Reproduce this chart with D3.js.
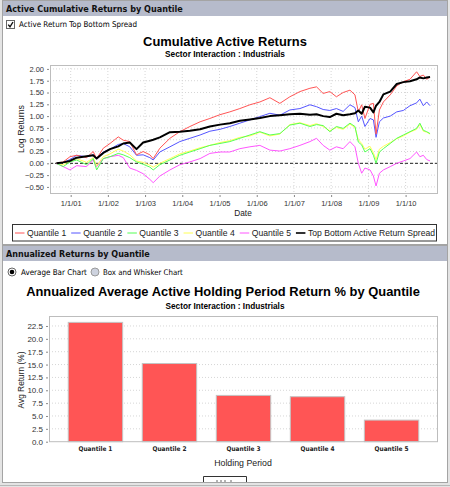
<!DOCTYPE html>
<html>
<head>
<meta charset="utf-8">
<script src="https://cdn.jsdelivr.net/npm/d3@7"></script>
<style>
body{margin:0;background:#fff;}
svg{display:block;font-family:"Liberation Sans",Arial,sans-serif;}
</style>
</head>
<body>
<svg id="chart" width="450" height="487"></svg>
<script>
// ---- data ----
const dates = ["2000-08-15","2000-10-20","2000-12-25","2001-03-01","2001-06-06","2001-08-10","2001-09-13","2001-11-17","2002-01-22","2002-04-13",
	"2002-06-01","2002-08-04","2002-10-09","2002-12-13","2003-02-17","2003-03-22","2003-05-26","2003-09-02","2003-12-08","2004-03-16",
	"2004-06-24","2004-09-28","2005-01-05","2005-04-12","2005-07-19","2005-10-26","2006-02-01","2006-05-10","2006-08-16","2006-11-22",
	"2007-03-01","2007-06-07","2007-08-11","2007-10-15","2007-12-19","2008-02-22","2008-04-28","2008-07-04","2008-08-22","2008-09-24",
	"2008-10-27","2008-11-28","2009-01-17","2009-02-19","2009-03-17","2009-04-19","2009-05-28","2009-08-03","2009-10-06","2009-12-10",
	"2010-02-13","2010-04-19","2010-05-21","2010-06-24","2010-07-27","2010-08-29"];

const quantile1 = [0.00,0.03,0.14,0.17,0.12,0.25,0.10,0.32,0.42,0.56,
	0.49,0.46,0.18,0.25,0.18,0.10,0.32,0.53,0.67,0.78,
	0.88,0.95,1.03,1.09,1.16,1.24,1.30,1.39,1.27,1.41,
	1.52,1.59,1.62,1.48,1.52,1.41,1.50,1.55,1.45,1.09,
	1.24,0.95,1.25,1.27,0.62,1.13,1.30,1.45,1.64,1.73,
	1.78,1.94,1.84,1.87,1.78,1.83];
const quantile2 = [0.00,0.02,0.08,0.17,0.14,0.18,0.12,0.24,0.30,0.40,
	0.42,0.35,0.17,0.18,0.12,0.07,0.24,0.35,0.46,0.53,
	0.60,0.68,0.72,0.78,0.85,0.92,0.99,1.06,1.02,1.13,
	1.16,1.24,1.20,1.14,1.12,1.16,1.10,1.24,1.18,0.88,
	1.00,0.78,0.95,0.92,0.55,0.88,0.96,1.00,1.09,1.12,
	1.22,1.28,1.36,1.22,1.30,1.22];
const quantile3 = [0.00,-0.07,0.03,0.07,-0.03,0.10,-0.14,0.10,0.14,0.21,
	0.18,0.12,0.03,-0.02,-0.08,-0.14,-0.03,0.07,0.17,0.24,
	0.31,0.38,0.42,0.46,0.53,0.60,0.67,0.60,0.63,0.81,
	0.85,0.78,0.82,0.80,0.67,0.78,0.74,0.85,0.78,0.45,
	0.39,0.24,0.31,0.17,0.00,0.24,0.31,0.42,0.53,0.60,
	0.67,0.74,0.85,0.70,0.67,0.63];
const quantile4 = [0.00,-0.03,0.05,0.10,0.02,0.12,-0.05,0.14,0.20,0.30,
	0.26,0.18,0.05,0.02,-0.04,-0.08,0.00,0.10,0.20,0.26,
	0.33,0.38,0.44,0.48,0.55,0.58,0.66,0.58,0.62,0.82,
	0.86,0.80,0.84,0.78,0.69,0.76,0.72,0.83,0.76,0.50,
	0.42,0.30,0.36,0.22,0.08,0.30,0.36,0.44,0.52,0.58,
	0.66,0.72,0.82,0.68,0.66,0.62];
const quantile5 = [0.00,-0.07,-0.14,-0.05,-0.07,0.07,-0.07,0.10,0.14,0.17,
	0.12,-0.10,-0.15,-0.22,-0.34,-0.41,-0.27,-0.14,-0.03,0.03,
	0.10,0.21,0.24,0.24,0.31,0.35,0.38,0.28,0.26,0.31,
	0.38,0.46,0.53,0.38,0.28,0.35,0.31,0.46,0.35,0.00,
	-0.21,-0.10,-0.14,-0.27,-0.48,-0.21,-0.14,-0.07,0.00,0.05,
	0.10,0.24,0.14,0.17,0.08,0.05];
const spread = [0.00,0.02,0.05,0.12,0.15,0.17,0.10,0.22,0.30,0.36,
	0.42,0.44,0.30,0.44,0.48,0.50,0.55,0.66,0.67,0.69,
	0.72,0.78,0.82,0.85,0.90,0.93,0.96,1.00,1.02,1.04,
	1.05,1.03,1.04,1.00,0.98,1.05,1.02,1.04,1.06,1.12,
	1.05,1.20,1.18,1.08,1.22,1.30,1.46,1.52,1.68,1.72,
	1.74,1.78,1.82,1.80,1.82,1.83];

const seriesNames = ["Quantile 1","Quantile 2","Quantile 3","Quantile 4","Quantile 5","Top Bottom Active Return Spread"];
const lineTicks = [-0.5,-0.25,0,0.25,0.5,0.75,1,1.25,1.5,1.75,2];
const dateTicks = ["2001-01-01","2002-01-01","2003-01-01","2004-01-01","2005-01-01","2006-01-01","2007-01-01","2008-01-01","2009-01-01","2010-01-01"];

const barCats = ["Quantile 1","Quantile 2","Quantile 3","Quantile 4","Quantile 5"];
const barVals = [23.2,15.2,9.0,8.75,4.2];
const barTicks = [0,2.5,5,7.5,10,12.5,15,17.5,20,22.5];

// ---- helpers ----
const parse = d3.timeParse("%Y-%m-%d");
const svg = d3.select("#chart");
const colors = ["#ff5555","#5555ff","#55ff55","#ffff55","#ff55ff","#000000"];

// shrink/grow font so the text spans the width seen in the reference
function fit(sel, w){
	const len = sel.node().getComputedTextLength();
	const fs = parseFloat(sel.attr("font-size"));
	sel.attr("font-size", (fs * w / len).toFixed(2));
	return sel;
}
function label(x, y, txt, opt){
	const t = svg.append("text")
		.attr("x", x).attr("y", y)
		.attr("dominant-baseline", "central")
		.attr("text-anchor", opt.anchor || "start")
		.attr("font-size", opt.size || 10)
		.attr("font-weight", opt.bold ? "bold" : "normal")
		.attr("font-family", opt.family || null)
		.attr("fill", opt.fill || "#000")
		.text(txt);
	if (opt.rotate) t.attr("transform", `rotate(-90,${x},${y})`);
	if (opt.width) fit(t, opt.width);
	return t;
}
const tahoma = "'DejaVu Sans Condensed','DejaVu Sans',sans-serif";

// ---- panels ----
svg.append("rect").attr("width", 450).attr("height", 487).attr("fill", "#e4e4e4");
function panel(y0, y1, title, tw){
	svg.append("rect").attr("x", 2.5).attr("y", y0 + 0.5).attr("width", 445).attr("height", y1 - y0)
		.attr("fill", "#fff").attr("stroke", "#a4a4a4");
	svg.append("rect").attr("x", 3).attr("y", y0 + 1).attr("width", 444).attr("height", 15)
		.attr("fill", "#b6bbcb");
	label(6, y0 + 9, title, {size: 10, bold: true, family: tahoma, fill: "#111", width: tw});
}
panel(0, 244, "Active Cumulative Returns by Quantile", 177);
panel(245, 482, "Annualized Returns by Quantile", 144);

// checkbox
svg.append("rect").attr("x", 6.5).attr("y", 20.5).attr("width", 8).attr("height", 8)
	.attr("fill", "#fff").attr("stroke", "#666");
svg.append("path").attr("d", "M8.2,24.6 L10,26.8 L13,22").attr("fill", "none").attr("stroke", "#111").attr("stroke-width", 1.4);
label(19, 24.5, "Active Return Top Bottom Spread", {size: 8, family: tahoma, width: 118});

// radio buttons
svg.append("circle").attr("cx", 12).attr("cy", 272).attr("r", 4).attr("fill", "#fff").attr("stroke", "#666");
svg.append("circle").attr("cx", 12).attr("cy", 272).attr("r", 2.3).attr("fill", "#000");
label(21, 272, "Average Bar Chart", {size: 8, family: tahoma, width: 66});
svg.append("circle").attr("cx", 95).attr("cy", 272).attr("r", 4).attr("fill", "#cdd2de").attr("stroke", "#9a9a9a");
label(103, 272, "Box and Whisker Chart", {size: 8, family: tahoma, width: 80});

// ---- line chart ----
label(225, 41.5, "Cumulative Active Returns", {size: 14, bold: true, anchor: "middle", width: 164});
label(225, 54, "Sector Interaction : Industrials", {size: 9, bold: true, anchor: "middle", width: 120});

const x = d3.scaleTime().domain([parse("2000-06-12"), parse("2010-11-15")]).range([50, 438]);
const y = d3.scaleLinear().domain([-0.65, 2.083]).range([194, 65]);

const g = svg.append("g");
g.append("rect").attr("x", 50).attr("y", 65).attr("width", 388).attr("height", 129).attr("fill", "#fff");

// grid
g.selectAll(".hgrid").data(lineTicks).enter().append("line")
	.attr("x1", 50).attr("x2", 438)
	.attr("y1", d => y(d)).attr("y2", d => y(d))
	.attr("stroke", "#d6d6d6").attr("stroke-dasharray", "1,2");
g.selectAll(".vgrid").data(dateTicks).enter().append("line")
	.attr("x1", d => x(parse(d))).attr("x2", d => x(parse(d)))
	.attr("y1", 65).attr("y2", 194)
	.attr("stroke", "#d6d6d6").attr("stroke-dasharray", "1,2");

// zero line
g.append("line").attr("x1", 50).attr("x2", 438).attr("y1", y(0)).attr("y2", y(0))
	.attr("stroke", "#222").attr("stroke-dasharray", "3,2");

const seriesVals = [quantile1, quantile2, quantile3, quantile4, quantile5, spread];
const series = seriesNames.map((name, i) => ({
	name: name,
	color: colors[i],
	width: i === 5 ? 2 : 1,
	points: dates.map((d, j) => ({date: parse(d), value: seriesVals[i][j]}))
}));

const line = d3.line().x(d => x(d.date)).y(d => y(d.value));

// draw last series first so the spread ends up on top
g.selectAll(".series").data(series.slice(0, 5).reverse().concat([series[5]])).enter().append("path")
	.attr("d", d => line(d.points))
	.attr("fill", "none")
	.attr("stroke", d => d.color)
	.attr("stroke-width", d => d.width)
	.attr("stroke-linejoin", "round");

g.append("rect").attr("x", 50.5).attr("y", 65.5).attr("width", 387).attr("height", 128)
	.attr("fill", "none").attr("stroke", "#bdbdbd");

// axes
const yAxis = d3.axisLeft(y).tickValues(lineTicks).tickFormat(d3.format(".2f")).tickSize(2).tickPadding(3);
const xAxis = d3.axisBottom(x).tickValues(dateTicks.map(parse)).tickFormat(d3.timeFormat("%-m/%-d/%y")).tickSize(2).tickPadding(4);

const ya = svg.append("g").attr("transform", "translate(49,0)").call(yAxis);
const xa = svg.append("g").attr("transform", "translate(0,195)").call(xAxis);
[ya, xa].forEach(a => {
	a.select(".domain").remove();
	a.selectAll(".tick line").attr("stroke", "#888");
	a.selectAll("text").attr("font-size", 7.5).attr("fill", "#333")
		.attr("font-family", "'Liberation Sans',Arial,sans-serif");
});
label(21, 129, "Log Returns", {size: 9, rotate: true, anchor: "middle", fill: "#222", width: 48});
label(243, 213.5, "Date", {size: 9, anchor: "middle", fill: "#222", width: 17.5});

// legend
svg.append("rect").attr("x", 12.5).attr("y", 224.5).attr("width", 424).attr("height", 16.5)
	.attr("fill", "#fff").attr("stroke", "#333");
const legend = svg.append("g");
const items = series.map(s => {
	const t = legend.append("text").attr("y", 233).attr("dominant-baseline", "central")
		.attr("font-size", 8.6).attr("fill", "#222").text(s.name);
	return {s: s, t: t, w: t.node().getComputedTextLength()};
});
const lineLen = 9.5, textGap = 2.5;
const totalW = d3.sum(items, d => d.w + lineLen + textGap);
const itemGap = (420 - totalW) / (items.length - 1);
let lx = 15;
items.forEach(d => {
	legend.append("line").attr("x1", lx).attr("x2", lx + lineLen).attr("y1", 233).attr("y2", 233)
		.attr("stroke", d.s.color).attr("stroke-width", d.s.width === 2 ? 1.6 : 1);
	d.t.attr("x", lx + lineLen + textGap);
	lx += lineLen + textGap + d.w + itemGap;
});

// ---- bar chart ----
label(223, 291.5, "Annualized Average Active Holding Period Return % by Quantile", {size: 13, bold: true, anchor: "middle", width: 394});
label(225, 306.5, "Sector Interaction : Industrials", {size: 9, bold: true, anchor: "middle", width: 119});

const xb = d3.scaleBand().domain(barCats).range([49, 438]).paddingInner(0.265).paddingOuter(0.26);
const yb = d3.scaleLinear().domain([0, 24.44]).range([441.7, 316]);

svg.append("rect").attr("x", 49).attr("y", 316).attr("width", 389).attr("height", 125.7).attr("fill", "#fff");
svg.selectAll(".bgrid").data(barTicks.slice(1)).enter().append("line")
	.attr("x1", 49).attr("x2", 438)
	.attr("y1", d => yb(d)).attr("y2", d => yb(d))
	.attr("stroke", "#d6d6d6").attr("stroke-dasharray", "1,2");

svg.selectAll(".bar").data(barVals).enter().append("rect")
	.attr("x", (d, i) => xb(barCats[i]))
	.attr("y", d => yb(d))
	.attr("width", xb.bandwidth())
	.attr("height", d => yb(0) - yb(d))
	.attr("fill", "#ff5555")
	.attr("stroke", "#c4c4c4");

svg.append("rect").attr("x", 49.5).attr("y", 316.5).attr("width", 388).attr("height", 125.2)
	.attr("fill", "none").attr("stroke", "#bdbdbd");

const yba = svg.append("g").attr("transform", "translate(48,0)")
	.call(d3.axisLeft(yb).tickValues(barTicks).tickFormat(d3.format(".1f")).tickSize(2).tickPadding(3));
yba.select(".domain").remove();
yba.selectAll(".tick line").attr("stroke", "#888");
yba.selectAll("text").attr("font-size", 8).attr("fill", "#333").attr("font-family", "'Liberation Sans',Arial,sans-serif");

svg.selectAll(".blabel").data(barCats).enter().append("text")
	.attr("x", d => xb(d) + xb.bandwidth() / 2)
	.attr("y", 449)
	.attr("text-anchor", "middle")
	.attr("dominant-baseline", "central")
	.attr("font-family", tahoma)
	.attr("font-weight", "bold")
	.attr("font-size", 7)
	.attr("fill", "#222")
	.text(d => d)
	.each(function(){ fit(d3.select(this), 34); });

label(21, 380, "Avg Return (%)", {size: 9, rotate: true, anchor: "middle", fill: "#222", width: 57});
label(243, 462.5, "Holding Period", {size: 9, anchor: "middle", fill: "#222", width: 57.7});

// cut-off box at the bottom
svg.append("path").attr("d", "M203.5,482 V476.5 H246.5 V482").attr("fill", "#fff").attr("stroke", "#333");
svg.append("path").attr("d", "M217,482 v-2 M221,482 v-2 M225,482 v-2 M231,482 v-2").attr("stroke", "#666");
svg.append("line").attr("x1", 2).attr("x2", 448).attr("y1", 482.5).attr("y2", 482.5).attr("stroke", "#a4a4a4");
svg.append("line").attr("x1", 0).attr("x2", 450).attr("y1", 485.5).attr("y2", 485.5).attr("stroke", "#b8b8b8");
</script>
</body>
</html>
